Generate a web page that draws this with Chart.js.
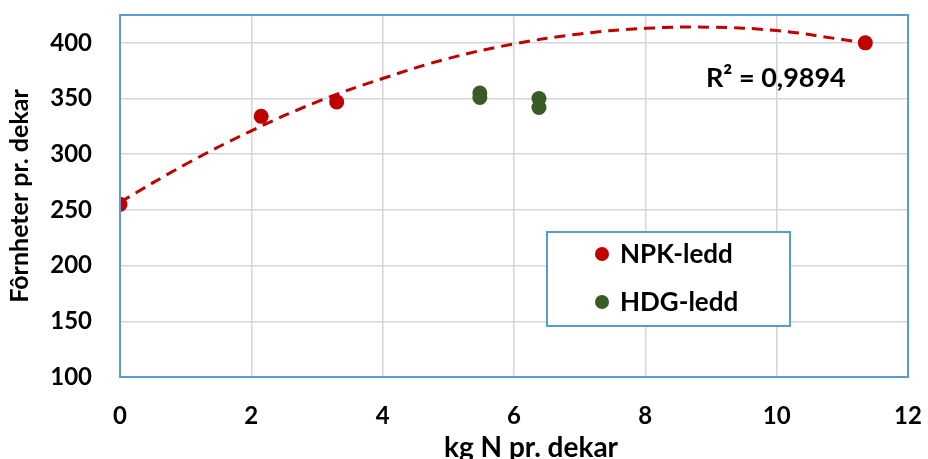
<!DOCTYPE html>
<html><head><meta charset="utf-8">
<script src="https://cdn.jsdelivr.net/npm/chart.js@4"></script>
<style>html,body{margin:0;padding:0;background:#fff;overflow:hidden}canvas{display:block}</style>
</head><body>
<canvas id="c" width="928" height="459"></canvas>
<script>
const xTitle = 'kg N pr. dekar';
const yTitle = 'Fôrnheter pr. dekar';
const seriesNames = ['NPK-ledd', 'HDG-ledd'];
const npkX = [0, 2.15, 3.3, 11.35];
const npkY = [255, 334, 347, 400];
const hdgX = [5.48, 5.48, 6.38, 6.38];
const hdgY = [355, 351, 350, 342];
const trendX = [0, 1, 2, 3, 4, 5, 6, 7, 8, 9, 10, 11, 11.35];
const trendY = [257, 291, 321, 347, 368, 386, 399, 408, 413, 414, 411, 403, 400];
const r2Label = 'R² = 0,9894';
const xTicks = [0, 2, 4, 6, 8, 10, 12];
const yTicks = [100, 150, 200, 250, 300, 350, 400];

const RED = '#C00000', GREEN = '#3A5A26', BLUE = '#5B9BD5', GRID = '#D5D5D5';
const FONT = 'Lato';
const pts = (xs, ys) => xs.map((x, i) => ({x, y: ys[i]}));

const overlay = {
  id: 'overlay',
  afterDatasetsDraw(chart) {
    const {ctx, chartArea: a} = chart;
    ctx.save();
    // plot border
    ctx.strokeStyle = BLUE; ctx.lineWidth = 2;
    ctx.strokeRect(a.left, a.top, a.right - a.left, a.bottom - a.top);
    // R² label
    ctx.fillStyle = '#000';
    ctx.font = 'bold 27px ' + FONT;
    ctx.textBaseline = 'middle'; ctx.textAlign = 'left';
    ctx.fillText(r2Label, a.left + 586, a.top + 63);
    // legend box
    const lx = a.left + 427, ly = a.top + 217, lw = 243, lh = 94;
    ctx.fillStyle = '#fff';
    ctx.fillRect(lx, ly, lw, lh);
    ctx.strokeStyle = BLUE; ctx.lineWidth = 2;
    ctx.strokeRect(lx, ly, lw, lh);
    const items = chart.data.datasets.filter(d => seriesNames.includes(d.label));
    ctx.font = 'bold 26px ' + FONT;
    items.forEach((d, i) => {
      const cy = ly + 22 + i * 48;
      ctx.beginPath();
      ctx.fillStyle = d.backgroundColor;
      ctx.arc(lx + 55, cy, 7, 0, Math.PI * 2);
      ctx.fill();
      ctx.fillStyle = '#000';
      ctx.fillText(d.label, lx + 73, cy + 1);
    });
    // x axis title
    ctx.font = 'bold 28px ' + FONT;
    ctx.textAlign = 'center'; ctx.textBaseline = 'alphabetic';
    ctx.fillText(xTitle, a.left + 411, a.bottom + 80);
    ctx.restore();
  }
};

function draw() {
  new Chart(document.getElementById('c'), {
    type: 'scatter',
    data: {
      datasets: [
        {label: 'trend', data: pts(trendX, trendY), showLine: true, borderColor: RED, borderWidth: 3,
         borderDash: [11, 7], pointRadius: 0, tension: 0.4, fill: false, order: 3},
        {label: seriesNames[0], data: pts(npkX, npkY), backgroundColor: RED, borderColor: RED,
         pointRadius: 7.5, borderWidth: 0, order: 1},
        {label: seriesNames[1], data: pts(hdgX, hdgY), backgroundColor: GREEN, borderColor: GREEN,
         pointRadius: 7.5, borderWidth: 0, order: 2}
      ]
    },
    options: {
      responsive: false, animation: false, devicePixelRatio: 1,
      layout: {padding: {top: 15, right: 20, left: 0, bottom: 0}},
      plugins: {legend: {display: false}, tooltip: {enabled: false}},
      scales: {
        x: {
          type: 'linear', min: 0, max: 12,
          afterBuildTicks: s => { s.ticks = xTicks.map(v => ({value: v})); },
          afterFit: s => { s.height = 82; s.paddingLeft = 0; s.paddingRight = 0; },
          grid: {color: GRID, lineWidth: 1.5, drawTicks: false},
          border: {display: false},
          ticks: {padding: 25, color: '#000', font: {family: FONT, size: 24, weight: 'bold'}},
          title: {display: false}
        },
        y: {
          type: 'linear', min: 100, max: 425,
          afterBuildTicks: s => { s.ticks = yTicks.map(v => ({value: v})); },
          afterFit: s => { s.width = 120; s.paddingTop = 0; s.paddingBottom = 0; },
          grid: {color: GRID, lineWidth: 1.5, drawTicks: false},
          border: {display: false},
          ticks: {padding: 28, color: '#000', font: {family: FONT, size: 24, weight: 'bold'}},
          title: {display: true, text: yTitle, color: '#000', padding: {top: 5, bottom: 0},
                  font: {family: FONT, size: 25, weight: 'bold'}}
        }
      }
    },
    plugins: [overlay]
  });
}
document.fonts.load('bold 24px ' + FONT).then(draw, draw);
</script>
</body></html>
